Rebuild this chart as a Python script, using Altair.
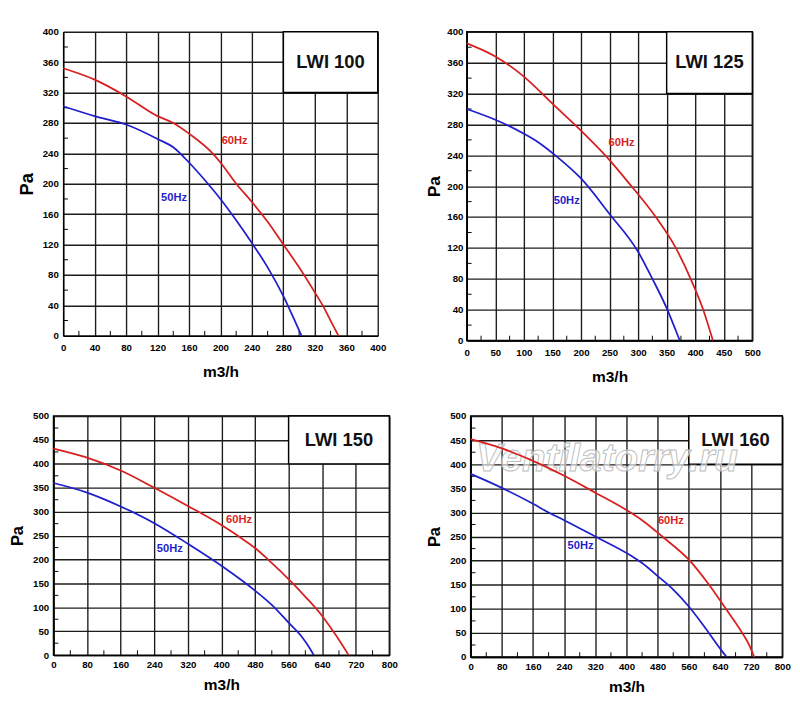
import altair as alt
import pandas as pd

# ---- LWI 100 ----
q100_60 = [0, 40, 80, 120, 140, 160, 190, 200, 220, 240, 260, 280, 300, 320, 330, 340, 350]
p100_60 = [352, 337, 315, 289, 280, 266, 240, 228, 200, 176, 150, 120, 90, 57, 40, 20, 0]
q100_50 = [0, 40, 80, 120, 140, 160, 180, 200, 220, 240, 260, 280, 290, 303]
p100_50 = [302, 289, 278, 259, 248, 228, 205, 180, 152, 122, 90, 52, 30, 0]
x_ticks_100 = [0, 40, 80, 120, 160, 200, 240, 280, 320, 360, 400]
y_ticks_100 = [0, 40, 80, 120, 160, 200, 240, 280, 320, 360, 400]

# ---- LWI 125 ----
q125_60 = [0, 50, 100, 150, 200, 245, 285, 331, 366, 392, 414, 431]
p125_60 = [385, 368, 342, 307, 272, 238, 203, 160, 120, 80, 40, 0]
q125_50 = [0, 50, 100, 125, 155, 200, 250, 300, 325, 350, 365, 373]
p125_50 = [300, 286, 268, 257, 240, 210, 164, 115, 80, 42, 15, 0]
x_ticks_125 = [0, 50, 100, 150, 200, 250, 300, 350, 400, 450, 500]
y_ticks_125 = [0, 40, 80, 120, 160, 200, 240, 280, 320, 360, 400]

# ---- LWI 150 ----
q150_60 = [0, 80, 160, 240, 320, 400, 440, 480, 510, 570, 600, 640, 670, 703]
p150_60 = [432, 413, 386, 350, 312, 272, 249, 224, 201, 150, 122, 82, 45, 0]
q150_50 = [0, 80, 160, 240, 320, 400, 480, 520, 560, 590, 610, 620]
p150_50 = [360, 340, 311, 276, 233, 187, 135, 105, 68, 40, 15, 0]
x_ticks_150 = [0, 80, 160, 240, 320, 400, 480, 560, 640, 720, 800]
y_ticks_150 = [0, 50, 100, 150, 200, 250, 300, 350, 400, 450, 500]

# ---- LWI 160 ----
q160_60 = [0, 80, 160, 240, 320, 400, 440, 495, 560, 610, 655, 697, 715, 728]
p160_60 = [452, 433, 407, 376, 341, 305, 284, 248, 202, 152, 100, 50, 25, 0]
q160_50 = [0, 80, 160, 200, 240, 320, 412, 440, 480, 520, 560, 600, 640, 657]
p160_50 = [380, 351, 318, 300, 284, 250, 210, 195, 168, 140, 105, 63, 18, 0]
x_ticks_160 = [0, 80, 160, 240, 320, 400, 480, 560, 640, 720, 800]
y_ticks_160 = [0, 50, 100, 150, 200, 250, 300, 350, 400, 450, 500]

RED = '#d81f1f'
BLUE = '#1f1fcc'
FONT = 'Liberation Sans, Arial'
GRID = '#1c1c1c'


def panel(name, q60, p60, q50, p50, xt, yt, box, lab, w, h, sty, watermark=False, gap=0, shift=0):
    # shift: the plot starts `shift` px right of the view's left edge
    curves = pd.concat([
        pd.DataFrame({'q': q60, 'p': p60, 'f': '60Hz'}),
        pd.DataFrame({'q': q50, 'p': p50, 'f': '50Hz'}),
    ])
    xsc = alt.Scale(domain=[xt[0], xt[-1]], nice=False, range=[shift, w + shift])
    ysc = alt.Scale(domain=[yt[0], yt[-1]], nice=False)
    col = alt.Color('f:N', scale=alt.Scale(domain=['60Hz', '50Hz'], range=[RED, BLUE]), legend=None)
    common = dict(grid=True, ticks=False, gridColor=GRID, gridWidth=1.4, gridOpacity=1,
                  domainColor='black', domainWidth=1.5, labelColor='black', labelFontWeight='bold',
                  titleColor='black', titleFontWeight='bold', labelFont=FONT, labelFontSize=10,
                  titleFont=FONT, labelFlush=False)
    xax = alt.Axis(values=xt, title='m3/h', labelPadding=sty['lpx'],
                   titleFontSize=sty['tx'], titlePadding=sty['tpx'], **common)
    yax = alt.Axis(values=yt, title='Pa', labelPadding=sty['lpy'], offset=-shift,
                   titleFontSize=sty['ty'], titlePadding=sty['tpy'], **common)

    def X(f):
        return alt.X(f, type='quantitative', scale=xsc, axis=xax)

    def Y(f):
        return alt.Y(f, type='quantitative', scale=ysc, axis=yax)

    sx = xt[1] - xt[0]
    sy = yt[1] - yt[0]
    xminor = pd.DataFrame({'q': [v + sx / 2 for v in xt[:-1]]})
    yminor = pd.DataFrame({'p': [v + sy / 2 for v in yt[:-1]]})

    layers = []
    layers.append(alt.Chart(xminor).mark_rule(color='black', strokeWidth=1).encode(
        x=X('q'), y=alt.value(h), y2=alt.value(h - 5)))
    layers.append(alt.Chart(yminor).mark_rule(color='black', strokeWidth=1).encode(
        y=Y('p'), x=alt.value(shift), x2=alt.value(shift + 5)))
    boxdf = pd.DataFrame({'q': [box[0]], 'q2': [box[1]], 'p': [box[2]], 'p2': [box[3]],
                          'cq': [(box[0] + box[1]) / 2], 'cp': [(box[2] + box[3]) / 2], 't': [name]})
    if gap:
        # empty room to the right of the panel (the gap between the two top charts)
        layers.append(alt.Chart(boxdf).mark_rule(opacity=0).encode(
            x=alt.value(w + shift), x2=alt.value(w + shift + gap), y=alt.value(h)))
    layers.append(alt.Chart(boxdf).mark_rect(fill='white', stroke='black', strokeWidth=1.5).encode(
        x=X('q'), x2='q2', y=Y('p'), y2='p2'))
    layers.append(alt.Chart(boxdf).mark_text(font=FONT, fontSize=sty['box'], fontWeight='bold',
                                             color='#111111').encode(x=X('cq'), y=Y('cp'), text='t:N'))
    if watermark:
        wm = pd.DataFrame({'q': [350], 'p': [410], 't': ['Ventilatorry.ru']})
        layers.append(alt.Chart(wm).mark_text(font=FONT, fontSize=40, fontStyle='italic',
                                               fontWeight='bold', fill='white', fillOpacity=0.6,
                                               stroke='#bdbdbd', strokeWidth=1).encode(
            x=X('q'), y=Y('p'), text='t:N'))
    layers.append(alt.Chart(curves).mark_line(strokeWidth=1.8, interpolate='monotone').encode(
        x=X('q'), y=Y('p'), color=col, detail='f:N'))
    labdf = pd.DataFrame({'q': [lab[0], lab[2]], 'p': [lab[1], lab[3]], 'f': ['60Hz', '50Hz']})
    layers.append(alt.Chart(labdf).mark_text(font=FONT, fontSize=sty['lab'], fontWeight='bold').encode(
        x=X('q'), y=Y('p'), text='f:N', color=col))
    out = alt.layer(*layers).properties(width=w + shift, height=h)
    if shift:
        out = out.properties(view=alt.ViewBackground(strokeOpacity=0))
    return out


sty1 = dict(lpx=7, tpx=12, tx=16, lpy=5, tpy=6, ty=19, box=19, lab=11.5)
sty2 = dict(sty1, lpy=4, tpy=3, ty=18)
sty3 = dict(lpx=5, tpx=8, tx=16, lpy=5, tpy=6, ty=17, box=19, lab=11.5)

p1 = panel('LWI 100', q100_60, p100_60, q100_50, p100_50, x_ticks_100, y_ticks_100,
           (280, 400, 320, 400), (218, 256, 141, 181), 325, 314, sty1, gap=49, shift=10)
p2 = panel('LWI 125', q125_60, p125_60, q125_50, p125_50, x_ticks_125, y_ticks_125,
           (350, 500, 320, 400), (271, 256, 175, 181), 295, 319, sty2)
p3 = panel('LWI 150', q150_60, p150_60, q150_50, p150_50, x_ticks_150, y_ticks_150,
           (560, 800, 400, 500), (442, 282, 277, 221), 347, 247, sty3)
p4 = panel('LWI 160', q160_60, p160_60, q160_50, p160_50, x_ticks_160, y_ticks_160,
           (560, 800, 400, 500), (514, 282, 282, 231), 322, 249, sty3, watermark=True)

chart = alt.concat(
    p1, p2, p3, p4, columns=2, align='none', spacing={'row': 26, 'column': 0}
).properties(
    padding={'left': 0, 'top': 7, 'right': 0, 'bottom': 0}
).configure_view(
    stroke='black', strokeWidth=1.5
)

chart.save('out.html', embed_options={'renderer': 'svg', 'actions': False})
